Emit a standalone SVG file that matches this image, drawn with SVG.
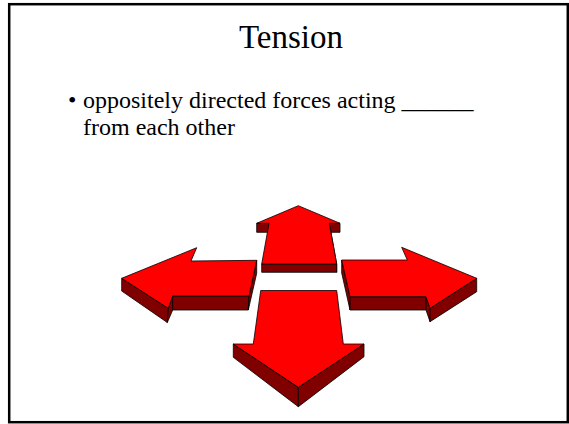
<svg xmlns="http://www.w3.org/2000/svg" width="569" height="424" viewBox="0 0 569 424">
<style>
.top{fill:#ff0000;stroke:#000;stroke-width:0.8;stroke-linejoin:round}
.side{fill:#800000;stroke:#000;stroke-width:0.8;stroke-linejoin:round}
</style>
<rect x="9.2" y="4.2" width="558.6" height="418" fill="#fff" stroke="#000" stroke-width="2.5"/>
<text font-family="Liberation Serif, serif" font-size="33" x="291" y="48" text-anchor="middle">Tension</text>
<text font-family="Liberation Serif, serif" font-size="24" x="68" y="108">•</text>
<text font-family="Liberation Serif, serif" font-size="24" x="83" y="108">oppositely directed forces acting ______</text>
<text font-family="Liberation Serif, serif" font-size="24" x="83" y="135">from each other</text>
<g id="arrow-up">
<polygon class="side" points="256.7,223.3 269,223.3 269,232.3 256.7,232.3"/>
<polygon class="side" points="329.3,223.3 340,223.3 340,232.3 329.3,232.3"/>
<polygon class="side" points="329.3,223.3 336.7,264 336.7,272.3 329.3,232.3"/>
<polygon class="side" points="261.7,264 336.7,264 336.7,272.3 261.7,272.3"/>
<polygon class="top" points="298.3,205.7 340,223.3 329.3,223.3 336.7,264 261.7,264 269,223.3 256.7,223.3"/>
</g>
<g id="arrow-left">
<polygon class="side" points="121.7,278.3 168.3,308.3 167.3,322.5 121.7,291"/>
<polygon class="side" points="168.3,308.3 172.7,296 172.7,310 167.3,322.5"/>
<polygon class="side" points="172.7,296 249,296 248.3,310 172.7,310"/>
<polygon class="side" points="256.7,260.3 256.7,273.3 248.3,310 249,296"/>
<polygon class="top" points="121.7,278.3 196.7,247.7 191,261 256.7,260.3 249,296 172.7,296 168.3,308.3"/>
</g>
<g id="arrow-right">
<polygon class="side" points="341.7,260 350,296.7 350,310 341.7,273"/>
<polygon class="side" points="350,296.7 426,296.7 426,310 350,310"/>
<polygon class="side" points="426,296.7 430,308.3 430,321.7 426,310"/>
<polygon class="side" points="430,308.3 476.7,278.3 476.7,291.7 430,321.7"/>
<polygon class="top" points="341.7,260 407.3,260 401.7,247.3 476.7,278.3 430,308.3 426,296.7 350,296.7"/>
</g>
<g id="arrow-down">
<polygon class="side" points="233.3,344 298.3,387.3 298.3,406.7 233.3,357.3"/>
<polygon class="side" points="298.3,387.3 364,344 364,356.7 298.3,406.7"/>
<polygon class="top" points="260.7,290.5 336.7,290.5 343.3,344 364,344 298.3,387.3 233.3,344 253.3,344"/>
</g>
</svg>
